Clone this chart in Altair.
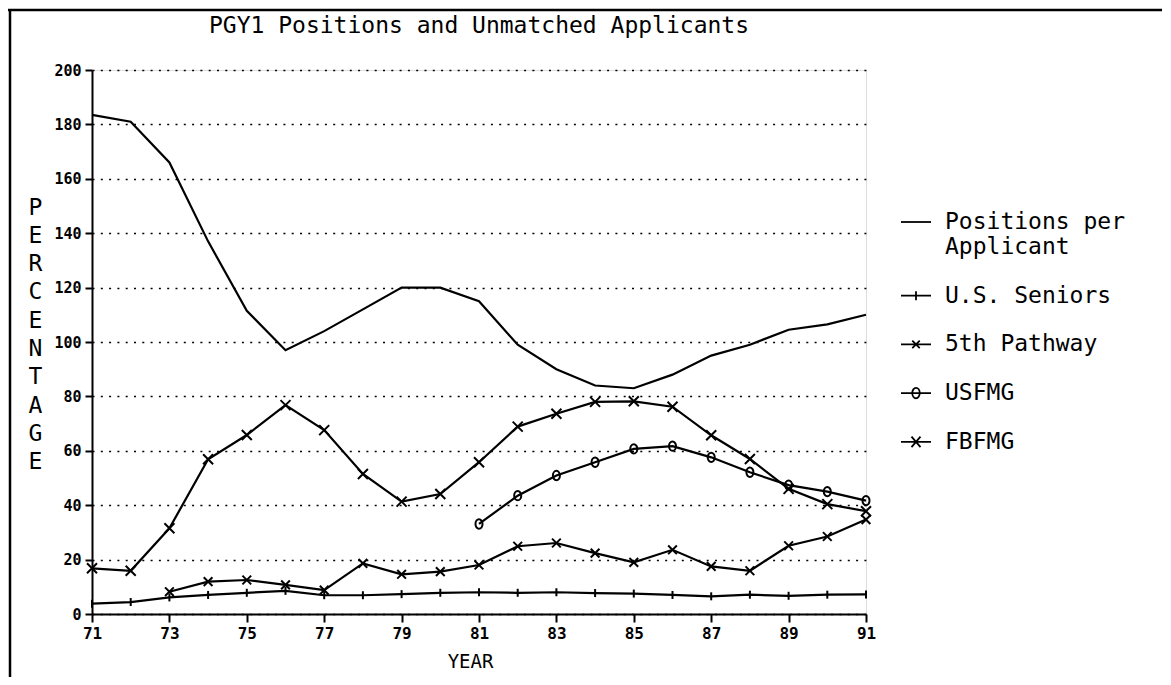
import altair as alt
import pandas as pd

years = list(range(71, 92))
series_names = ["Positions per Applicant", "U.S. Seniors", "5th Pathway", "USFMG", "FBFMG"]

positions = [183.5, 181, 166, 137, 111.5, 97, 104, 112, 120, 120, 115,
             99, 90, 84, 83, 88, 95, 99, 104.5, 106.5, 110]
us_seniors = [3.8, 4.4, 6.1, 7.0, 7.8, 8.5, 6.9, 6.9, 7.3, 7.8, 8.0,
              7.8, 8.0, 7.7, 7.5, 7.0, 6.5, 7.1, 6.7, 7.1, 7.2]
fifth_pathway = [None, None, 8.2, 11.9, 12.5, 10.7, 8.8, 18.6, 14.6, 15.6, 18.0,
                 24.9, 26.1, 22.4, 19.0, 23.6, 17.5, 15.9, 25.1, 28.5, 34.7]
usfmg = [None, None, None, None, None, None, None, None, None, None, 33.1,
         43.5, 50.9, 55.8, 60.7, 61.7, 57.6, 52.1, 47.4, 45.0, 41.7]
fbfmg = [16.8, 15.9, 31.5, 56.9, 65.8, 76.8, 67.6, 51.5, 41.3, 44.1, 55.8,
         68.9, 73.6, 78.0, 78.2, 76.2, 65.7, 57.0, 46.0, 40.4, 37.8]

y_ticks = list(range(0, 201, 20))

rows = []
for name, vals in zip(series_names, [positions, us_seniors, fifth_pathway, usfmg, fbfmg]):
    for yr, v in zip(years, vals):
        if v is not None:
            rows.append({"series": name, "year": yr, "value": v})
df = pd.DataFrame(rows)

marker_series = ["U.S. Seniors", "5th Pathway", "USFMG", "FBFMG"]
marker_paths = [
    "M0,-1V1",
    "M-1,-1L1,1M-1,1L1,-1",
    "M0,-1A0.75,1,0,1,1,0,1A0.75,1,0,1,1,0,-1Z",
    "M-1,-1L1,1M-1,1L1,-1",
]
marker_sizes = [64, 100, 169, 160]

legend_paths = [
    "M-1,0H1",
    "M-1,0H1M0,-0.3V0.3",
    "M-1,0H1M-0.25,-0.25L0.25,0.25M-0.25,0.25L0.25,-0.25",
    "M-1,0H1M0,-0.35A0.25,0.35,0,1,1,0,0.35A0.25,0.35,0,1,1,0,-0.35Z",
    "M-1,0H1M-0.3,-0.35L0.3,0.35M-0.3,0.35L0.3,-0.35",
]

MONO = "DejaVu Sans Mono"

x_enc = alt.X(
    "year:Q",
    scale=alt.Scale(domain=[71, 91], nice=False, zero=False),
    axis=alt.Axis(
        values=years,
        format="d",
        labelExpr="datum.value % 2 == 1 ? datum.label : ''",
        labelFlush=False,
        labelOverlap=False,
        labelFont=MONO,
        labelFontWeight="bold",
        labelFontSize=16,
        labelColor="black",
        labelPadding=3,
        tickSize=8,
        tickWidth=2,
        tickColor="black",
        domainColor="black",
        domainWidth=2,
        grid=False,
        title="YEAR",
        titleFont=MONO,
        titleFontSize=19,
        titleFontWeight="normal",
        titleColor="black",
        titleAlign="center",
        titleBaseline="top",
        titleX=378,
        titleY=38,
    ),
)

y_enc = alt.Y(
    "value:Q",
    scale=alt.Scale(domain=[0, 200], nice=False, zero=True),
    axis=alt.Axis(
        values=y_ticks,
        labelFlush=False,
        labelFont=MONO,
        labelFontWeight="bold",
        labelFontSize=15,
        labelColor="black",
        labelPadding=4,
        tickSize=7,
        tickWidth=2,
        tickColor="black",
        domainColor="black",
        domainWidth=2,
        grid=True,
        gridColor="black",
        gridDash=[2, 6.3],
        gridWidth=1.4,
        gridOpacity=1,
        title=list("PERCENTAGE"),
        titleFont=MONO,
        titleFontSize=23,
        titleFontWeight="normal",
        titleColor="black",
        titleAngle=0,
        titleAlign="center",
        titleBaseline="top",
        titleLineHeight=28.3,
        titleX=-57,
        titleY=126,
    ),
)

base = alt.Chart(df)

lines = base.mark_line(color="black", strokeWidth=2.2).encode(
    x=x_enc, y=y_enc, detail="series:N"
)

markers = base.transform_filter(
    alt.datum.series != "Positions per Applicant"
).mark_point(filled=False, color="black", strokeWidth=2, opacity=1).encode(
    x="year:Q",
    y="value:Q",
    shape=alt.Shape("series:N", scale=alt.Scale(domain=marker_series, range=marker_paths), legend=None),
    size=alt.Size("series:O", scale=alt.Scale(domain=marker_series, range=marker_sizes), legend=None),
)

legend_layer = base.transform_filter("false").mark_point(
    filled=False, color="black", strokeWidth=1.8, opacity=1
).encode(
    x="year:Q",
    y="value:Q",
    shape=alt.Shape(
        "series:N",
        scale=alt.Scale(domain=series_names, range=legend_paths),
        legend=alt.Legend(
            title=None,
            orient="none",
            legendX=808,
            legendY=136,
            padding=0,
            symbolSize=900,
            symbolStrokeWidth=1.8,
            symbolStrokeColor="black",
            symbolFillColor="transparent",
            symbolOpacity=1,
            labelFont=MONO,
            labelFontSize=23,
            labelColor="black",
            labelOffset=13,
            labelLimit=400,
            rowPadding=20.7,
            labelExpr="datum.label == 'Positions per Applicant' ? ['Positions per', 'Applicant'] : datum.label",
        ),
    ),
)

frame_df = pd.DataFrame({"k": [0]})
top_rule = alt.Chart(frame_df).mark_rule(color="black", strokeWidth=2.5).encode(
    x=alt.value(-84), x2=alt.value(1070), y=alt.value(-60), y2=alt.value(-60)
)
left_rule = alt.Chart(frame_df).mark_rule(color="black", strokeWidth=2.5).encode(
    x=alt.value(-82), x2=alt.value(-82), y=alt.value(-60), y2=alt.value(620)
)

chart = alt.layer(lines, markers, legend_layer, top_rule, left_rule).resolve_scale(
    shape="independent", size="independent"
).properties(
    width=774,
    height=544,
    autosize=alt.AutoSizeParams(type="none"),
    padding={"left": 84, "top": 62, "right": 297, "bottom": 63},
    title=alt.Title(
        "PGY1 Positions and Unmatched Applicants",
        font=MONO,
        fontSize=23,
        fontWeight="normal",
        color="black",
        anchor="middle",
        offset=-29,
    ),
).configure_view(stroke=None).configure(background="white")

chart.save("out.html", embed_options={"renderer": "svg", "actions": False})
